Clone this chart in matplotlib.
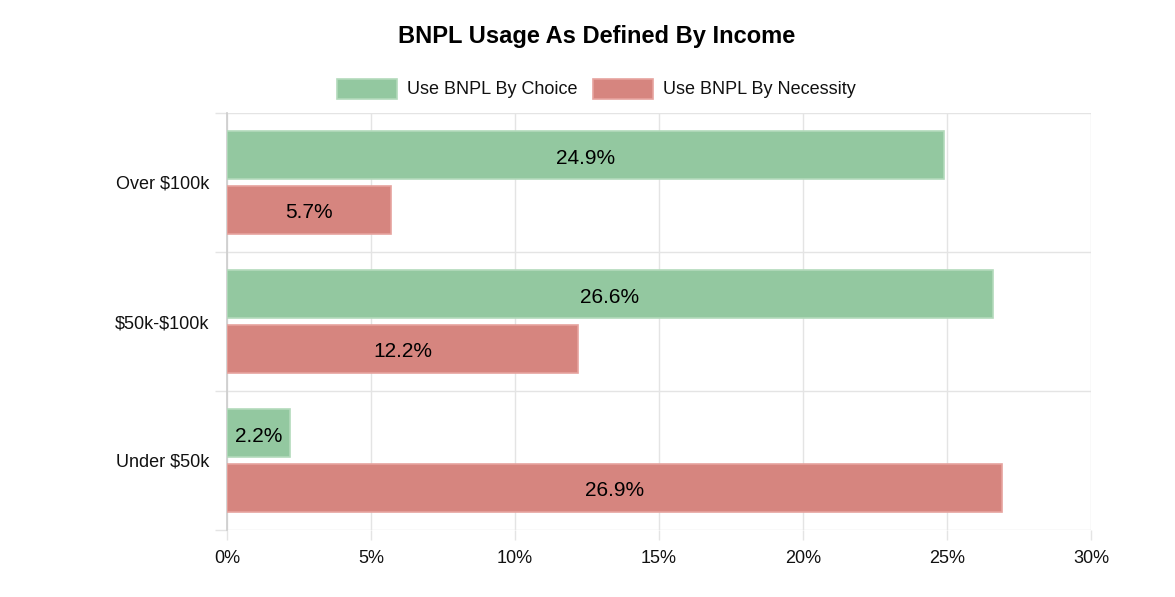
import matplotlib
matplotlib.use("Agg")
import matplotlib.pyplot as plt
from matplotlib.patches import Rectangle
import numpy as np

plt.rcParams["font.family"] = ["Liberation Sans", "DejaVu Sans"]
plt.rcParams["text.parse_math"] = False

# --- data (bottom to top, as drawn) ------------------------------------------
CATEGORIES = ["Under $50k", "$50k-$100k", "Over $100k"]
CHOICE = [2.2, 26.6, 24.9]        # Use BNPL By Choice, %
NECESSITY = [26.9, 12.2, 5.7]     # Use BNPL By Necessity, %
SERIES = ["Use BNPL By Choice", "Use BNPL By Necessity"]
XTICKS = [0, 5, 10, 15, 20, 25, 30]

GREEN, GREEN_EDGE = "#93c8a0", "#b3dabb"
RED, RED_EDGE = "#d6857f", "#e6a39e"
GRID = "#e4e4e4"

fig = plt.figure(figsize=(11.75, 5.97), dpi=100)
ax = fig.add_axes([227 / 1175, 1 - 530 / 597, (1091 - 227) / 1175, (530 - 113) / 597])

y = np.arange(len(CATEGORIES))
h = 0.345
off = 0.196
b1 = ax.barh(y + off, CHOICE, height=h, color=GREEN, edgecolor=GREEN_EDGE, lw=1.2, zorder=3)
b2 = ax.barh(y - off, NECESSITY, height=h, color=RED, edgecolor=RED_EDGE, lw=1.2, zorder=3)
for bars in (b1, b2):
    for rect, v in zip(bars, bars.datavalues):
        ax.annotate(f"{v:.1f}%", (rect.get_width() / 2, rect.get_y() + rect.get_height() / 2),
                    xytext=(0, -2), textcoords="offset points",
                    ha="center", va="center", fontsize=15, color="#000000", zorder=4)

ax.set_xlim(0, 30)
ax.set_ylim(-0.5, len(CATEGORIES) - 0.5)
ax.set_xticks(XTICKS)
ax.set_xticklabels([f"{t}%" for t in XTICKS], fontsize=13, color="#111111")
ax.set_yticks(y)
ax.set_yticklabels(CATEGORIES, fontsize=13, color="#111111")
ax.set_yticks(np.arange(len(CATEGORIES) + 1) - 0.5, minor=True)

# chart.js-style grid: lines at category boundaries, ticks run past the axes
ax.grid(True, axis="x", color=GRID, lw=1, zorder=0)
ax.grid(True, axis="y", which="minor", color=GRID, lw=1, zorder=0)
ax.tick_params(axis="y", which="major", length=0, pad=13)
ax.tick_params(axis="y", which="minor", length=9, color=GRID, width=1)
ax.tick_params(axis="x", length=7.5, color=GRID, width=1, pad=7)
for s in ("top", "right", "bottom"):
    ax.spines[s].set_visible(False)
ax.spines["left"].set_color("#cccccc")
ax.spines["left"].set_linewidth(1.2)

fig.text(0.508, 1 - 36 / 597, "BNPL Usage As Defined By Income",
         ha="center", va="center", fontsize=17, fontweight="bold", color="#000000")

# legend drawn in figure pixels
W, H = 1175, 597
legend_items = [(337, SERIES[0], GREEN, GREEN_EDGE), (593, SERIES[1], RED, RED_EDGE)]
for x0, lab, fc, ec in legend_items:
    fig.patches.append(Rectangle((x0 / W, 1 - 99 / H), 60 / W, 20 / H,
                                 transform=fig.transFigure, facecolor=fc,
                                 edgecolor=ec, lw=1.2))
    fig.text((x0 + 70) / W, 1 - 90 / H, lab, ha="left", va="center",
             fontsize=13, color="#111111")

fig.savefig("out.png", dpi=100)
